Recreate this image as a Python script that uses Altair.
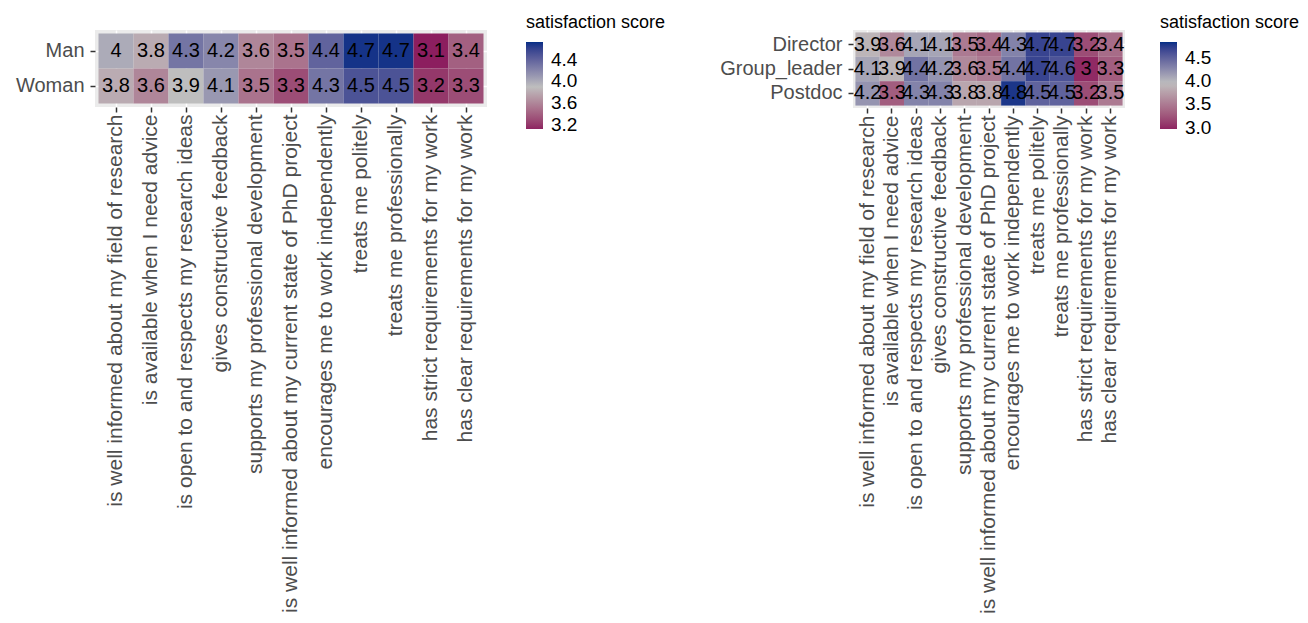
import altair as alt
import pandas as pd

items = [
    "is well informed about my field of research",
    "is available when I need advice",
    "is open to and respects my research ideas",
    "gives constructive feedback",
    "supports my professional development",
    "is well informed about my current state of PhD project",
    "encourages me to work independently",
    "treats me politely",
    "treats me professionally",
    "has strict requirements for my work",
    "has clear requirements for my work",
]

gender_rows = ["Man", "Woman"]
man = [4.0, 3.8, 4.3, 4.2, 3.6, 3.5, 4.4, 4.7, 4.7, 3.1, 3.4]
woman = [3.8, 3.6, 3.9, 4.1, 3.5, 3.3, 4.3, 4.5, 4.5, 3.2, 3.3]

position_rows = ["Director", "Group_leader", "Postdoc"]
director = [3.9, 3.6, 4.1, 4.1, 3.5, 3.4, 4.3, 4.7, 4.7, 3.2, 3.4]
group_leader = [4.1, 3.9, 4.4, 4.2, 3.6, 3.5, 4.4, 4.7, 4.6, 3.0, 3.3]
postdoc = [4.2, 3.3, 4.3, 4.3, 3.8, 3.8, 4.8, 4.5, 4.5, 3.2, 3.5]

left_domain = [3.12, 3.9, 4.73]
left_ticks = [3.2, 3.6, 4.0, 4.4]
right_domain = [2.97, 3.96, 4.85]
right_ticks = [3.0, 3.5, 4.0, 4.5]

LOW, MID, HIGH = "#8E2461", "#BEBEBE", "#022F86"
FONT = "Liberation Sans"


def long_table(rows, series):
    recs = []
    for r, vals in zip(rows, series):
        for it, v in zip(items, vals):
            recs.append({"group": r, "item": it, "score": v})
    return pd.DataFrame(recs)


def panel(df, rows, w, h, domain, ticks, legend_x):
    scale = alt.Scale(domain=domain, range=[LOW, MID, HIGH], interpolate="lab")
    color = alt.Color(
        "score:Q",
        scale=scale,
        legend=alt.Legend(
            title="satisfaction score",
            orient="none",
            direction="vertical",
            legendX=legend_x,
            legendY=-16,
            values=ticks,
            format=".1f",
            gradientLength=87,
            gradientThickness=17,
            gradientStrokeWidth=0,
            titleFontSize=18,
            titleFontWeight="normal",
            titleColor="black",
            titlePadding=10,
            labelFontSize=19,
            labelColor="black",
            labelOffset=8,
            padding=0,
        ),
    )
    axis_common = dict(
        labelColor="#4D4D4D",
        labelFont=FONT,
        tickColor="#333333",
        tickWidth=1.5,
        tickSize=5,
        domain=False,
        grid=True,
        gridColor="white",
        gridWidth=1.5,
        zindex=0,
    )
    x = alt.X(
        "item:N",
        sort=items,
        title=None,
        scale=alt.Scale(paddingInner=0, paddingOuter=0.1),
        axis=alt.Axis(labelAngle=-90, labelLimit=1000, labelOverlap=False,
                      labelPadding=2, labelFontSize=21, **axis_common),
    )
    y = alt.Y(
        "group:N",
        sort=rows,
        title=None,
        scale=alt.Scale(paddingInner=0, paddingOuter=0.1),
        axis=alt.Axis(labelPadding=6, labelLimit=1000, labelFontSize=20,
                      **axis_common),
    )
    base = alt.Chart(df).encode(x=x, y=y)
    rect = base.mark_rect(opacity=1, strokeWidth=0).encode(color=color)
    text = base.mark_text(fontSize=20, color="black", font=FONT).encode(
        text=alt.Text("score:Q", format=".1~f")
    )
    return alt.layer(rect, text).properties(width=w, height=h)


left = panel(long_table(gender_rows, [man, woman]), gender_rows, 392, 77,
             left_domain, left_ticks, 431)
right = panel(long_table(position_rows, [director, group_leader, postdoc]),
              position_rows, 272, 78, right_domain, right_ticks, 307)

chart = (
    alt.hconcat(left, right, spacing=53)
    .resolve_scale(color="independent")
    .properties(padding={"left": 7, "top": 6, "right": 0, "bottom": 0})
    .configure(font=FONT)
    .configure_view(fill="#EBEBEB", stroke=None)
)

chart.save("out.html", embed_options={"renderer": "svg", "actions": False})
